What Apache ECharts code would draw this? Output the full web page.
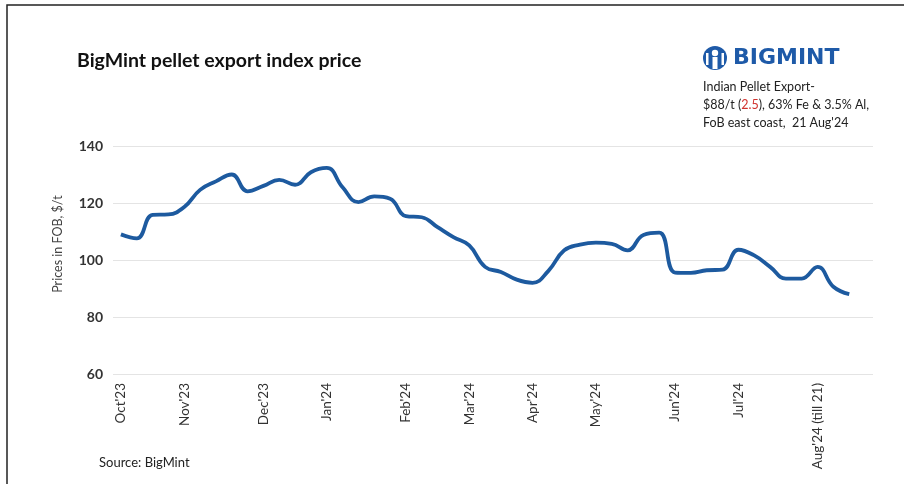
<!DOCTYPE html>
<html>
<head>
<meta charset="utf-8">
<script src="https://cdn.jsdelivr.net/npm/echarts@6/dist/echarts.min.js"></script>
<style>
html,body{margin:0;padding:0;background:#fff;}
#chart{width:904px;height:484px;}
</style>
</head>
<body>
<div id="chart"></div>
<script>
// Weekly index values (US$/t), Oct'23 .. 21 Aug'24
var prices = [109, 107.6, 115.8, 116, 118.6, 124.6, 127.6, 130, 124.1, 126, 128.1, 126.4, 130.8, 132.3, 125.5, 120.3, 122.3, 121.5, 115.4, 115, 111.5, 108, 105.1, 97.6, 95.8, 93.1, 92, 96.2, 103.4, 105.4, 106.1, 105.7, 103.4, 108.8, 109.6, 95.6, 95.5, 96.4, 96.6, 103.6, 101.6, 97.6, 93.5, 93.5, 97.6, 90.6, 88];
// Month tick labels and the week index where each appears
var monthLabels = ["Oct'23", "Nov'23", "Dec'23", "Jan'24", "Feb'24", "Mar'24", "Apr'24", "May'24", "Jun'24", "Jul'24", "Aug'24 (till 21)"];
var monthIndex = [0, 4, 9, 13, 18, 22, 26, 30, 35, 39, 44];
var yTicks = [60, 80, 100, 120, 140];

var nCats = prices.length + 1;
var categories = [];
for (var i = 0; i < nCats; i++) categories.push('w' + i);
var labelMap = {};
monthIndex.forEach(function (idx, k) { labelMap[idx] = monthLabels[k]; });

var chart = echarts.init(document.getElementById('chart'), null, {renderer: 'canvas'});
var FONT = 'Lato, "Open Sans", sans-serif';
var option = {
  animation: false,
  backgroundColor: '#fff',
  grid: {left: 113, right: 31, top: 146, bottom: 110},
  xAxis: {
    type: 'category',
    data: categories,
    boundaryGap: true,
    axisLine: {show: false},
    axisTick: {show: false},
    axisLabel: {
      interval: function (idx) { return labelMap[idx] !== undefined; },
      formatter: function (v, idx) { return labelMap[idx] || ''; },
      rotate: 90,
      margin: 9,
      color: '#333',
      fontSize: 13.5,
      fontFamily: FONT
    }
  },
  yAxis: {
    type: 'value',
    min: yTicks[0],
    max: yTicks[yTicks.length - 1],
    interval: 20,
    axisLine: {show: false},
    axisTick: {show: false},
    axisLabel: {color: '#333', fontSize: 14, fontWeight: 'bold', fontFamily: FONT, margin: 10},
    splitLine: {lineStyle: {color: '#e4e4e4', width: 1}}
  },
  series: [{
    type: 'line',
    data: prices,
    smooth: 0.45,
    symbol: 'none',
    lineStyle: {color: '#1d5a9f', width: 3.8}
  }],
  graphic: [
    {type: 'rect', shape: {x: 7, y: 5, width: 920, height: 500}, style: {fill: 'none', stroke: '#222', lineWidth: 1.5}, silent: true},
    {type: 'text', left: 77, top: 51, style: {text: 'BigMint pellet export index price', fill: '#111', font: 'bold 19.5px ' + FONT}},
    {type: 'text', x: 58, y: 244, rotation: Math.PI / 2, style: {text: 'Prices in FOB, $/t', fill: '#444', font: '12.5px ' + FONT, align: 'center', verticalAlign: 'middle'}},
    // logo icon
    {type: 'circle', shape: {cx: 715, cy: 58, r: 12}, style: {fill: '#1e5aa8'}},
    {type: 'circle', shape: {cx: 715, cy: 53, r: 3.2}, style: {fill: '#fff'}},
    {type: 'rect', shape: {x: 712.5, y: 57, width: 5, height: 12}, style: {fill: '#fff'}},
    {type: 'rect', shape: {x: 706, y: 53, width: 2.5, height: 12}, style: {fill: '#fff'}},
    {type: 'rect', shape: {x: 721.5, y: 53, width: 2.5, height: 12}, style: {fill: '#fff'}},
    {type: 'text', left: 733, top: 47, style: {text: 'BIGMINT', fill: '#1e5aa8', font: 'bold 22px "DejaVu Sans", sans-serif'}},
    {type: 'text', left: 703, top: 80, style: {text: 'Indian Pellet Export-', fill: '#222', font: '12.5px ' + FONT}},
    {type: 'text', left: 703, top: 98, style: {
      text: '{a|$88/t (}{r|2.5}{a|), 63% Fe & 3.5% Al,}',
      rich: {a: {fill: '#222', font: '12.5px ' + FONT}, r: {fill: '#d0312d', font: '12.5px ' + FONT}}
    }},
    {type: 'text', left: 703, top: 116, style: {text: "FoB east coast,  21 Aug'24", fill: '#222', font: '12.5px ' + FONT}},
    {type: 'text', left: 99, top: 456, style: {text: 'Source: BigMint', fill: '#222', font: '13px ' + FONT}}
  ]
};
chart.setOption(option);
</script>
</body>
</html>
